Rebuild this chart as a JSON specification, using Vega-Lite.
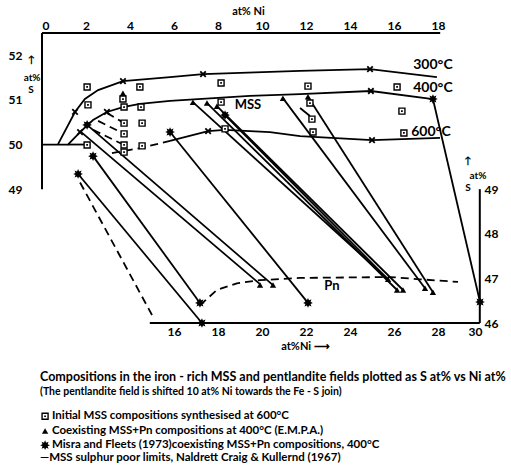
{
  "$schema": "https://vega.github.io/schema/vega-lite/v6.json",
  "width": 440,
  "height": 290,
  "autosize": {"type": "none"},
  "padding": {"left": 42, "top": 33, "right": 29, "bottom": 147},
  "config": {
    "view": {"stroke": null},
    "font": "Lato",
    "axis": {"labelFont": "Lato", "labelFontWeight": "bold", "labelFontSize": 12, "labelColor": "black", "titleColor": "black", "titleFont": "Lato", "titleFontWeight": "bold", "titleFontSize": 11, "grid": false, "domain": false, "ticks": false}
  },
  "datasets": {
    "axes": [
      {"x": 0, "y": 49, "x2": 0, "y2": 52.5},
      {"x": 0, "y": 52.5, "x2": 18.1, "y2": 52.5}
    ],
    "pnaxes": [
      {"x": 14.9, "y": 46, "x2": 29.9, "y2": 46},
      {"x": 29.9, "y": 46, "x2": 29.9, "y2": 49}
    ],
    "solid": [
      {"s": "c300", "o": 1, "x": 0.73, "y": 50.01},
      {"s": "c300", "o": 2, "x": 1.5, "y": 50.73},
      {"s": "c300", "o": 3, "x": 1.95, "y": 51.02},
      {"s": "c300", "o": 4, "x": 2.55, "y": 51.22},
      {"s": "c300", "o": 5, "x": 3.68, "y": 51.42},
      {"s": "c300", "o": 6, "x": 5.82, "y": 51.51},
      {"s": "c300", "o": 7, "x": 7.32, "y": 51.58},
      {"s": "c300", "o": 8, "x": 11.73, "y": 51.65},
      {"s": "c300", "o": 9, "x": 14.91, "y": 51.69},
      {"s": "c300", "o": 10, "x": 17.95, "y": 51.51},
      {"s": "c400", "o": 1, "x": 0, "y": 50.0},
      {"s": "c400", "o": 2, "x": 1.18, "y": 50.0},
      {"s": "c400", "o": 3, "x": 1.73, "y": 50.28},
      {"s": "c400", "o": 4, "x": 2.32, "y": 50.55},
      {"s": "c400", "o": 5, "x": 2.95, "y": 50.73},
      {"s": "c400", "o": 6, "x": 3.68, "y": 50.84},
      {"s": "c400", "o": 7, "x": 4.45, "y": 50.91},
      {"s": "c400", "o": 8, "x": 5.82, "y": 50.98},
      {"s": "c400", "o": 9, "x": 9.45, "y": 51.09},
      {"s": "c400", "o": 10, "x": 11.73, "y": 51.13},
      {"s": "c400", "o": 11, "x": 14.95, "y": 51.2},
      {"s": "c400", "o": 12, "x": 17.77, "y": 51.02},
      {"s": "h", "o": 1, "x": 1.18, "y": 50.0},
      {"s": "h", "o": 2, "x": 2.05, "y": 50.0},
      {"s": "c600", "o": 1, "x": 5.82, "y": 50.08},
      {"s": "c600", "o": 2, "x": 7.55, "y": 50.3},
      {"s": "c600", "o": 3, "x": 8.32, "y": 50.33},
      {"s": "c600", "o": 4, "x": 10.36, "y": 50.28},
      {"s": "c600", "o": 5, "x": 11.73, "y": 50.19},
      {"s": "c600", "o": 6, "x": 15.0, "y": 50.1},
      {"s": "c600", "o": 7, "x": 18.09, "y": 50.15},
      {"s": "t1", "o": 1, "x": 1.64, "y": 49.34},
      {"s": "t1", "o": 2, "x": 7.27, "y": 46.0},
      {"s": "t2", "o": 1, "x": 2.32, "y": 49.74},
      {"s": "t2", "o": 2, "x": 7.18, "y": 46.45},
      {"s": "t3", "o": 1, "x": 1.73, "y": 50.3},
      {"s": "t3", "o": 2, "x": 9.91, "y": 46.87},
      {"s": "t4", "o": 1, "x": 2.05, "y": 50.44},
      {"s": "t4", "o": 2, "x": 10.5, "y": 46.85},
      {"s": "t5", "o": 1, "x": 5.82, "y": 50.28},
      {"s": "t5", "o": 2, "x": 12.09, "y": 46.45},
      {"s": "t6", "o": 1, "x": 6.86, "y": 50.95},
      {"s": "t6", "o": 2, "x": 15.73, "y": 46.98},
      {"s": "t7", "o": 1, "x": 7.5, "y": 50.93},
      {"s": "t7", "o": 2, "x": 16.14, "y": 46.74},
      {"s": "t8", "o": 1, "x": 7.95, "y": 50.86},
      {"s": "t8", "o": 2, "x": 16.41, "y": 46.74},
      {"s": "t9", "o": 1, "x": 8.32, "y": 50.66},
      {"s": "t9", "o": 2, "x": 15.73, "y": 46.98},
      {"s": "t10", "o": 1, "x": 10.95, "y": 51.04},
      {"s": "t10", "o": 2, "x": 17.41, "y": 46.78},
      {"s": "t11", "o": 1, "x": 12.09, "y": 51.07},
      {"s": "t11", "o": 2, "x": 17.77, "y": 46.69},
      {"s": "t12", "o": 1, "x": 17.77, "y": 51.02},
      {"s": "t12", "o": 2, "x": 19.91, "y": 46.47},
      {"s": "t13", "o": 1, "x": 11.73, "y": 50.82},
      {"s": "t13", "o": 2, "x": 12.18, "y": 50.64}
    ],
    "dashed": [
      {"s": "d1", "o": 1, "x": 1.73, "y": 49.15},
      {"s": "d1", "o": 2, "x": 5.0, "y": 46.18},
      {"s": "d2", "o": 1, "x": 7.18, "y": 46.4},
      {"s": "d2", "o": 2, "x": 7.95, "y": 46.74},
      {"s": "d2", "o": 3, "x": 8.86, "y": 46.89},
      {"s": "d2", "o": 4, "x": 9.91, "y": 46.96},
      {"s": "d2", "o": 5, "x": 11.73, "y": 47.01},
      {"s": "d2", "o": 6, "x": 15.82, "y": 47.03},
      {"s": "d2", "o": 7, "x": 17.18, "y": 46.98},
      {"s": "d2", "o": 8, "x": 18.91, "y": 46.92},
      {"s": "d600", "o": 1, "x": 3.18, "y": 49.81},
      {"s": "d600", "o": 2, "x": 4.45, "y": 49.92},
      {"s": "d600", "o": 3, "x": 5.82, "y": 50.08},
      {"s": "s1", "o": 1, "x": 2.95, "y": 50.71},
      {"s": "s1", "o": 2, "x": 3.73, "y": 50.48},
      {"s": "s2", "o": 1, "x": 2.55, "y": 50.53},
      {"s": "s2", "o": 2, "x": 3.73, "y": 50.24},
      {"s": "s3", "o": 1, "x": 2.32, "y": 50.33},
      {"s": "s3", "o": 2, "x": 3.73, "y": 49.99}
    ],
    "squares": [
      {"x": 2.05, "y": 51.29}, {"x": 4.45, "y": 51.29}, {"x": 8.14, "y": 51.38}, {"x": 12.09, "y": 51.31}, {"x": 16.14, "y": 51.29},
      {"x": 3.68, "y": 51.02}, {"x": 2.09, "y": 50.89}, {"x": 3.73, "y": 50.84}, {"x": 4.5, "y": 50.84}, {"x": 8.14, "y": 50.95}, {"x": 12.18, "y": 50.93},
      {"x": 16.36, "y": 50.75},
      {"x": 3.73, "y": 50.48}, {"x": 4.55, "y": 50.48}, {"x": 12.27, "y": 50.57},
      {"x": 3.73, "y": 50.24}, {"x": 8.32, "y": 50.35}, {"x": 12.32, "y": 50.28}, {"x": 16.45, "y": 50.26},
      {"x": 2.05, "y": 49.99}, {"x": 3.73, "y": 49.99}, {"x": 4.55, "y": 49.97}, {"x": 3.73, "y": 49.83},
      {"x": 0.14, "y": 43.91}
    ],
    "triangles": [
      {"x": 3.68, "y": 51.15}, {"x": 6.86, "y": 50.95}, {"x": 7.5, "y": 50.93}, {"x": 7.95, "y": 50.86}, {"x": 10.95, "y": 51.04}, {"x": 12.09, "y": 51.07},
      {"x": 9.91, "y": 46.85}, {"x": 10.5, "y": 46.85}, {"x": 16.14, "y": 46.74}, {"x": 16.41, "y": 46.74}, {"x": 17.41, "y": 46.78}, {"x": 17.77, "y": 46.69}, {"x": 15.73, "y": 46.98},
      {"x": 0.14, "y": 43.58}
    ],
    "stars": [
      {"x": 5.82, "y": 50.28}, {"x": 2.32, "y": 49.74}, {"x": 1.64, "y": 49.34}, {"x": 2.05, "y": 50.44}, {"x": 8.32, "y": 50.66}, {"x": 17.77, "y": 51.02},
      {"x": 7.18, "y": 46.45}, {"x": 7.27, "y": 46.0}, {"x": 12.09, "y": 46.45}, {"x": 19.91, "y": 46.47},
      {"x": 0.14, "y": 43.26}
    ],
    "crosses": [
      {"x": 1.5, "y": 50.73}, {"x": 3.68, "y": 51.42}, {"x": 7.32, "y": 51.58}, {"x": 14.91, "y": 51.69},
      {"x": 1.73, "y": 50.28}, {"x": 2.95, "y": 50.73}, {"x": 14.95, "y": 51.2},
      {"x": 7.55, "y": 50.3}, {"x": 15.0, "y": 50.1}
    ],
    "templabels": [
      {"x": 17.77, "y": 51.78, "t": "300°C"},
      {"x": 17.77, "y": 51.27, "t": "400°C"},
      {"x": 17.68, "y": 50.28, "t": "600°C"}
    ],
    "fieldlabels": [
      {"x": 9.36, "y": 50.89, "t": "MSS"},
      {"x": 13.18, "y": 46.83, "t": "Pn"}
    ],
    "axisnotes": [
      {"x": -0.48, "y": 51.9, "t": "↑"},
      {"x": -0.45, "y": 51.5, "t": "at%"},
      {"x": -0.5, "y": 51.22, "t": "S"},
      {"x": 19.36, "y": 49.62, "t": "↑"},
      {"x": 19.82, "y": 49.3, "t": "at%"},
      {"x": 19.36, "y": 49.02, "t": "S"}
    ],
    "caption1": [
      {"x": -0.09, "y": 44.79, "t": "Compositions in the iron - rich MSS and pentlandite fields  plotted as S at% vs Ni at%"}
    ],
    "caption2": [
      {"x": -0.09, "y": 44.45, "t": "(The pentlandite field is shifted 10 at% Ni towards the  Fe - S join)"}
    ],
    "legendtext": [
      {"x": 0.45, "y": 43.91, "t": "Initial MSS compositions synthesised at 600°C"},
      {"x": 0.45, "y": 43.58, "t": "Coexisting MSS+Pn compositions at 400°C  (E.M.P.A.)"},
      {"x": 0.45, "y": 43.26, "t": "Misra and Fleets (1973)coexisting MSS+Pn compositions, 400°C"},
      {"x": -0.09, "y": 42.97, "t": "—MSS sulphur poor limits,  Naldrett Craig & Kullernd (1967)"}
    ]
  },
  "resolve": {"scale": {"x": "independent", "y": "independent"}},
  "layer": [
    {
      "encoding": {
        "x": {"field": "x", "type": "quantitative", "scale": {"domain": [0, 20], "nice": false, "zero": false},
          "axis": {"orient": "top", "values": [0, 2, 4, 6, 8, 10, 12, 14, 16, 18], "title": "at% Ni", "titleX": 206, "titlePadding": 3, "labelPadding": 1}},
        "y": {"field": "y", "type": "quantitative", "scale": {"domain": [46, 52.5], "nice": false, "zero": false},
          "axis": {"orient": "left", "values": [49, 50, 51, 52], "title": null, "labelPadding": 20}}
      },
      "layer": [
        {"data": {"name": "axes"}, "mark": {"type": "rule", "color": "black", "strokeWidth": 2}, "encoding": {"x2": {"field": "x2"}, "y2": {"field": "y2"}}},
        {"data": {"name": "solid"}, "mark": {"type": "line", "color": "black", "strokeWidth": 1.8}, "encoding": {"detail": {"field": "s"}, "order": {"field": "o"}}},
        {"data": {"name": "dashed"}, "mark": {"type": "line", "color": "black", "strokeWidth": 1.8, "strokeDash": [8, 5]}, "encoding": {"detail": {"field": "s"}, "order": {"field": "o"}}},
        {"data": {"name": "squares"}, "mark": {"type": "point", "shape": "square", "filled": true, "fill": "white", "stroke": "black", "strokeWidth": 1.4, "size": 36, "opacity": 1}},
        {"data": {"name": "squares"}, "mark": {"type": "point", "shape": "square", "filled": true, "color": "black", "size": 3, "opacity": 1}},
        {"data": {"name": "triangles"}, "mark": {"type": "point", "shape": "triangle-up", "filled": true, "color": "black", "size": 40, "opacity": 1}},
        {"data": {"name": "stars"}, "mark": {"type": "point", "shape": "M0,-1L0.22,-0.53L0.71,-0.71L0.53,-0.22L1,0L0.53,0.22L0.71,0.71L0.22,0.53L0,1L-0.22,0.53L-0.71,0.71L-0.53,0.22L-1,0L-0.53,-0.22L-0.71,-0.71L-0.22,-0.53Z", "filled": true, "color": "black", "size": 95, "opacity": 1}},
        {"data": {"name": "crosses"}, "mark": {"type": "point", "shape": "M-1,-1L1,1M-1,1L1,-1", "filled": false, "color": "black", "strokeWidth": 1.8, "size": 30, "opacity": 1}},
        {"data": {"name": "templabels"}, "mark": {"type": "text", "font": "Lato", "fontWeight": "bold", "fontSize": 14, "color": "black", "align": "center", "baseline": "middle"}, "encoding": {"text": {"field": "t"}}},
        {"data": {"name": "fieldlabels"}, "mark": {"type": "text", "font": "Lato", "fontWeight": "bold", "fontSize": 13, "color": "black", "align": "center", "baseline": "middle"}, "encoding": {"text": {"field": "t"}}},
        {"data": {"name": "axisnotes"}, "mark": {"type": "text", "font": "Lato", "fontWeight": "bold", "fontSize": 10, "color": "black", "align": "center", "baseline": "middle"}, "encoding": {"text": {"field": "t"}}},
        {"data": {"name": "caption1"}, "mark": {"type": "text", "font": "Lato", "fontWeight": "bold", "fontSize": 12.5, "color": "black", "align": "left", "baseline": "middle"}, "encoding": {"text": {"field": "t"}}},
        {"data": {"name": "caption2"}, "mark": {"type": "text", "font": "Lato", "fontWeight": "bold", "fontSize": 10.5, "color": "black", "align": "left", "baseline": "middle"}, "encoding": {"text": {"field": "t"}}},
        {"data": {"name": "legendtext"}, "mark": {"type": "text", "font": "Lato", "fontWeight": "bold", "fontSize": 11.5, "color": "black", "align": "left", "baseline": "middle"}, "encoding": {"text": {"field": "t"}}}
      ]
    },
    {
      "data": {"name": "pnaxes"},
      "mark": {"type": "rule", "color": "black", "strokeWidth": 2},
      "encoding": {
        "x": {"field": "x", "type": "quantitative", "scale": {"domain": [10, 30], "nice": false, "zero": false},
          "axis": {"orient": "bottom", "values": [16, 18, 20, 22, 24, 26, 28, 30], "title": "at%Ni ⟶", "titleX": 263, "titlePadding": 3, "labelPadding": 3}},
        "y": {"field": "y", "type": "quantitative", "scale": {"domain": [46, 52.5], "nice": false, "zero": false},
          "axis": {"orient": "right", "values": [46, 47, 48, 49], "title": null, "labelPadding": 2}},
        "x2": {"field": "x2"},
        "y2": {"field": "y2"}
      }
    }
  ]
}
